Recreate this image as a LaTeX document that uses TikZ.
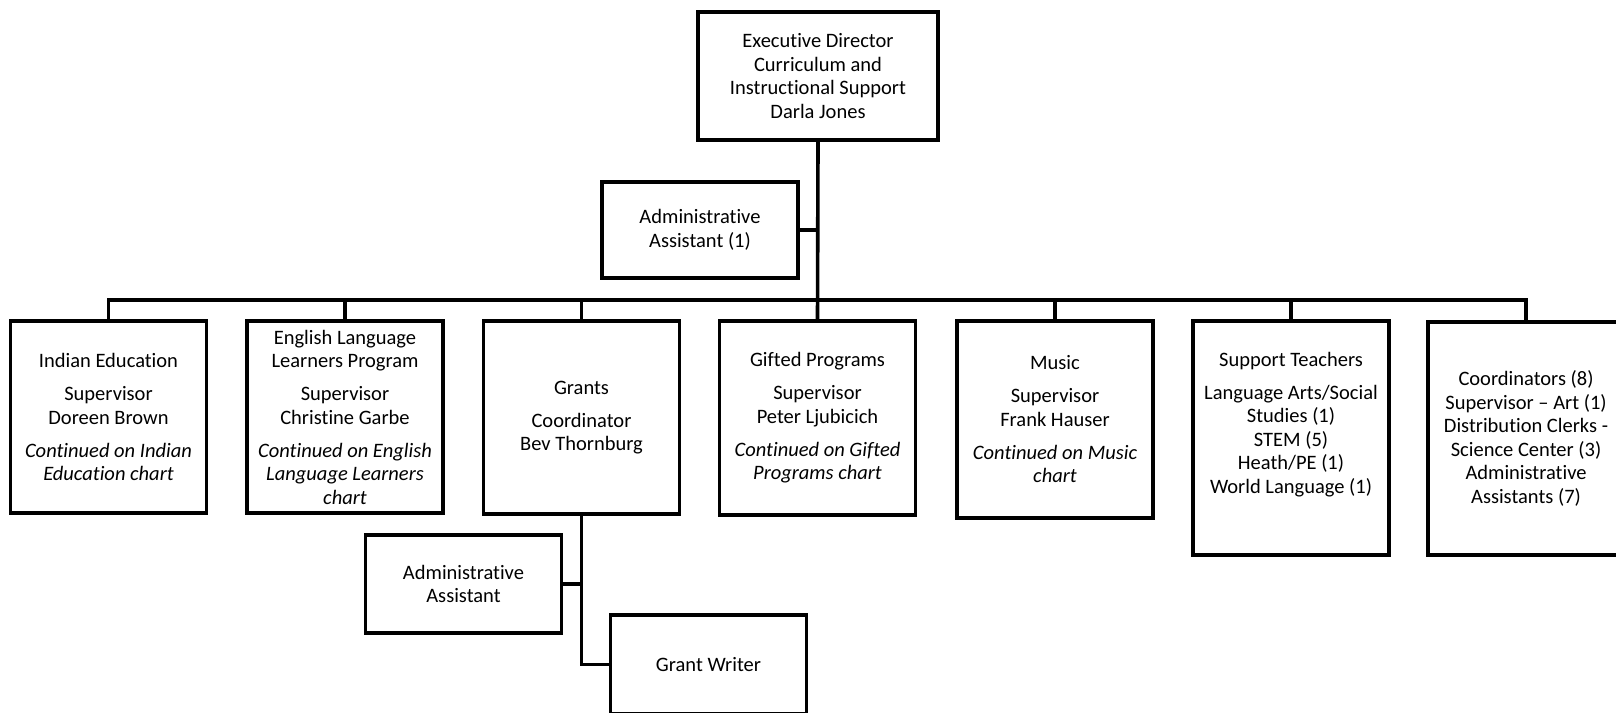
\documentclass[tikz,border=0pt]{standalone}
\usepackage{fontspec}
\setmainfont{Carlito}[Ligatures=NoCommon]
\usepackage{tikz}
\usetikzlibrary{positioning}
\tikzstyle{unit} = [draw, line width=3.6pt, minimum width=196pt, inner sep=0pt, align=center, font=\fontsize{20.5}{23.5}\selectfont]
\tikzstyle{link} = [line width=3.6pt]

\begin{document}
\begin{tikzpicture}[x=1pt,y=-1pt]

	\clip (0,0) rectangle (1616,712);

	\node[unit, minimum width=240pt, minimum height=128pt] (dir) at (818,76)
		{Executive Director\\Curriculum and\\Instructional Support\\Darla Jones};
	\node[unit, minimum height=96pt] (assist) at (700,230)
		{Administrative\\Assistant (1)};

	\node[unit, minimum height=192pt] (indian) at (108.5,417)
		{Indian Education\\[9.5pt]Supervisor\\Doreen Brown\\[9.5pt]\textit{Continued on Indian}\\\textit{Education chart}};
	\node[unit, minimum height=192pt] (ell) at (345,417)
		{English Language\\Learners Program\\[9.5pt]Supervisor\\Christine Garbe\\[9.5pt]\textit{Continued on English}\\\textit{Language Learners}\\\textit{chart}};
	\node[unit, minimum height=193pt] (grants) at (581.5,417.5)
		{Grants\\[9.5pt]Coordinator\\Bev Thornburg};
	\node[unit, minimum height=194pt] (gifted) at (817.5,418)
		{Gifted Programs\\[9.5pt]Supervisor\\Peter Ljubicich\\[9.5pt]\textit{Continued on Gifted}\\\textit{Programs chart}};
	\node[unit, minimum height=197pt] (music) at (1055,419.5)
		{Music\\[9.5pt]Supervisor\\Frank Hauser\\[9.5pt]\textit{Continued on Music}\\\textit{chart}};
	\node[unit, minimum height=234pt] (support) at (1291,438)
		{Support Teachers\\[9.5pt]Language Arts/Social\\Studies (1)\\STEM (5)\\Heath/PE (1)\\World Language (1)\\\strut};
	\node[unit, minimum height=233pt] (others) at (1526,438.5)
		{Coordinators (8)\\Supervisor -- Art (1)\\Distribution Clerks -\\Science Center (3)\\Administrative\\Assistants (7)};

	\node[unit, minimum height=98pt] (gassist) at (463.5,584)
		{Administrative\\Assistant};
	\node[unit, minimum height=99pt] (writer) at (708.5,664.5)
		{Grant Writer};

	% reporting lines
	\coordinate (bus) at (818,300);
	\draw[link] (dir.south) -- (gifted.north);
	\draw[link] (assist.east) -- (assist.east -| dir.south);
	\draw[link] (indian.north) -- (indian.north |- bus) -- (others.north |- bus) -- (others.north);
	\foreach \n in {ell,grants,music,support}
		\draw[link] (\n.north) -- (\n.north |- bus);
	\draw[link] (grants.south) |- (writer.west);
	\draw[link] (gassist.east) -- (gassist.east -| grants.south);

\end{tikzpicture}
\end{document}
